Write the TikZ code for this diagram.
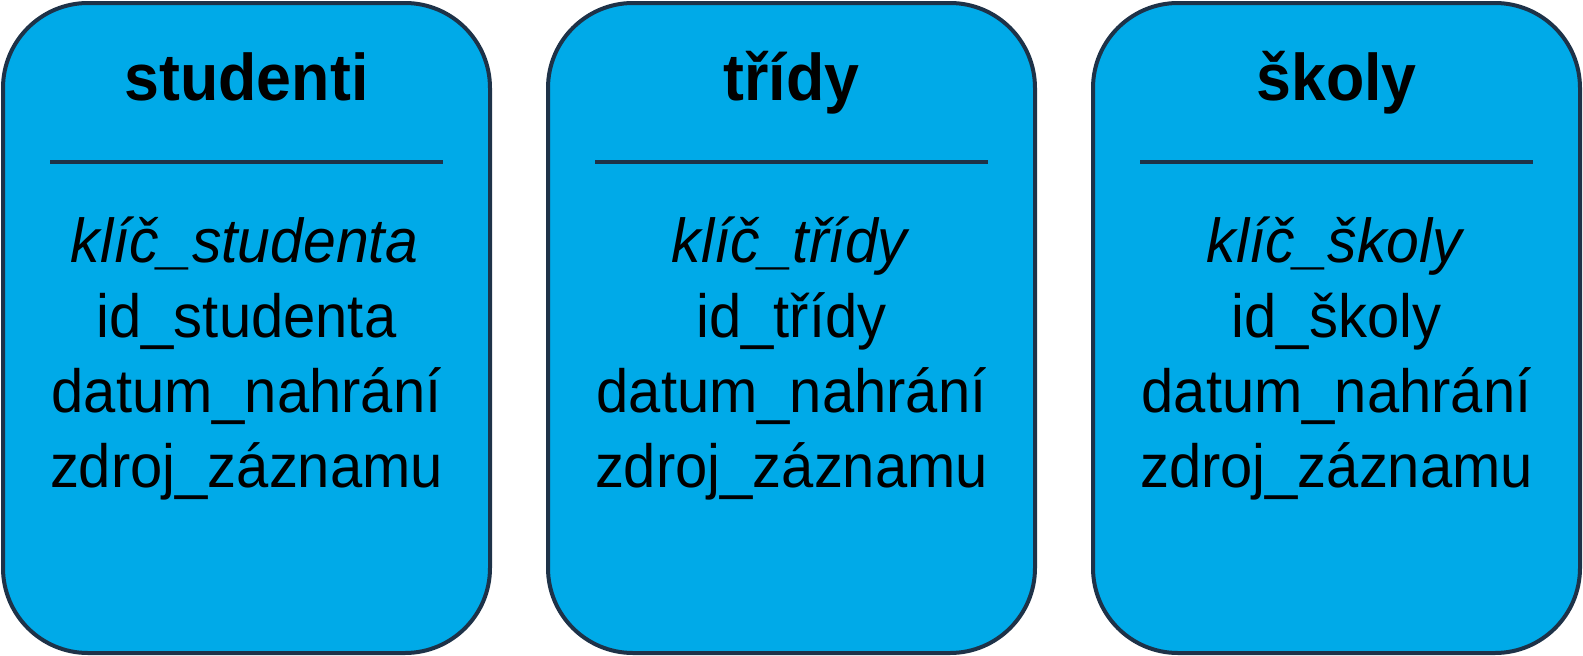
\documentclass[tikz,border=0pt]{standalone}
\usepackage{fontspec}
\setmainfont{Liberation Sans}[FakeStretch=0.95]
\definecolor{boxfill}{RGB}{0,170,232}
\definecolor{boxline}{RGB}{30,50,72}
\begin{document}
\begin{tikzpicture}[x=1pt,y=-1pt,
  tbox/.style={draw=boxline,line width=4pt,fill=boxfill,rounded corners=85pt,
    minimum width=487pt,minimum height=650pt,inner sep=0pt},
  ttl/.style={anchor=base,inner sep=0pt,font=\fontsize{66}{66}\selectfont\bfseries},
  fld/.style={anchor=base,inner sep=0pt,font=\fontsize{61}{61}\selectfont},
  keyfld/.style={fld,font=\fontsize{62}{62}\selectfont\itshape},
  sepline/.style={draw=boxline,line width=4pt}]
\useasboundingbox (0,0) rectangle (1583,656);
\foreach \i/\cx/\t/\k/\id in {1/246.5/studenti/klíč\_studenta/id\_studenta,
                              2/791.5/třídy/klíč\_třídy/id\_třídy,
                              3/1336.5/školy/klíč\_školy/id\_školy}{
  \node[tbox] (box\i) at (\cx,328) {};
  \node[ttl] (title\i) at (\cx,100) {\t};
  \coordinate (sl\i) at (\cx-196.5,162);
  \coordinate (sr\i) at (\cx+196.5,162);
  \draw[sepline] (sl\i) -- (sr\i);
  \node[keyfld] (key\i) at (\cx-2,262) {\k};
  \node[fld] (id\i) at (\cx,337) {\id};
  \node[fld] (dat\i) at (\cx,412) {datum\_nahrání};
  \node[fld] (src\i) at (\cx,487) {zdroj\_záznamu};
}
\end{tikzpicture}
\end{document}
